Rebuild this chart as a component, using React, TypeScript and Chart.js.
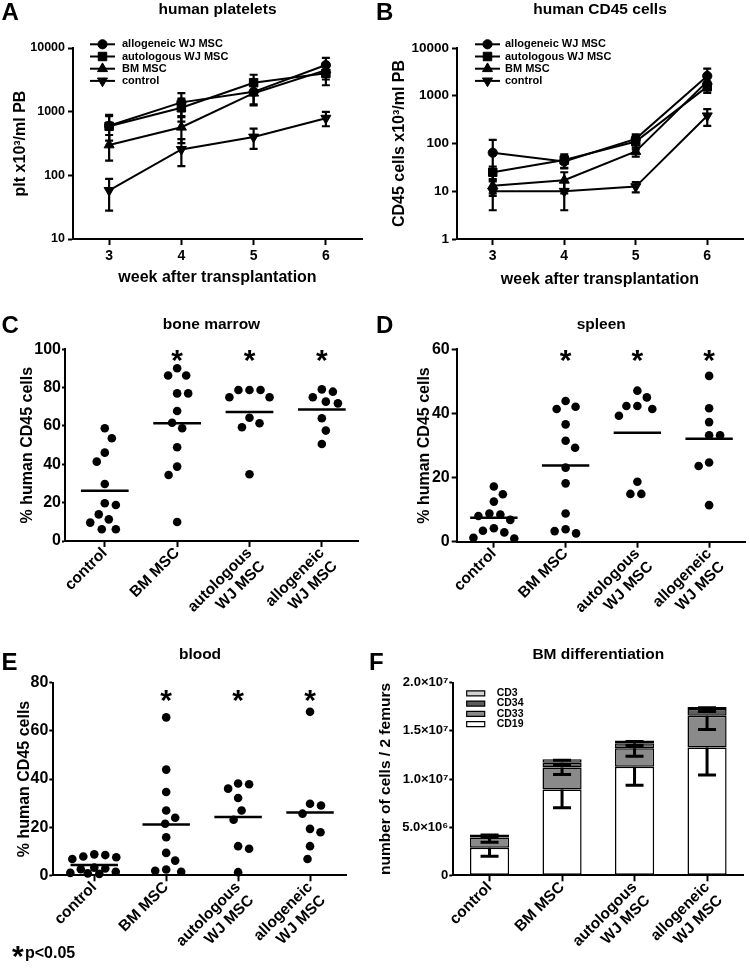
import React, { useEffect, useRef } from "react";
import { Chart, registerables } from "chart.js";
import { drawPoint } from "chart.js/helpers";

Chart.register(...registerables);

const FONT = "'Liberation Sans', Arial, Helvetica, sans-serif";
Chart.defaults.font.family = FONT;
Chart.defaults.color = "#000";
const BLACK = "#000";

// ---------------- Panels A & B: time course ----------------
const weeks = [3, 4, 5, 6];
const seriesNames = ["allogeneic WJ MSC", "autologous WJ MSC", "BM MSC", "control"];
const logTicksA = [10, 100, 1000, 10000];
const logTicksB = [1, 10, 100, 1000, 10000];

const plateletsAllo = [600, 1400, 2050, 5400];
const plateletsAlloErr = [250, 550, 750, 1600];
const plateletsAuto = [590, 1150, 2850, 4000];
const plateletsAutoErr = [300, 450, 950, 1400];
const plateletsBM = [300, 570, 1950, 4500];
const plateletsBMErr = [130, 250, 700, 1300];
const plateletsCtrl = [58, 255, 400, 790];
const plateletsCtrlErr = [30, 115, 140, 200];

const cd45Allo = [64, 42, 125, 2600];
const cd45AlloErr = [55, 12, 30, 1100];
const cd45Auto = [25, 45, 110, 1550];
const cd45AutoErr = [8, 14, 35, 400];
const cd45BM = [13, 17, 68, 2000];
const cd45BMErr = [5, 8, 15, 700];
const cd45Ctrl = [10, 10, 12.5, 380];
const cd45CtrlErr = [6, 6, 3, 145];

// ---------------- Panels C, D, E: dot plots ----------------
const groups = ["control", "BM MSC", "autologous WJ MSC", "allogeneic WJ MSC"];
const groupTickLabels = [["control"], ["BM MSC"], ["autologous", "WJ MSC"], ["allogeneic", "WJ MSC"]];
const significant = [false, true, true, true];

const marrowControl = [58.8, 53.6, 46.1, 41.4, 29.7, 19.7, 18.8, 13.9, 11.3, 9.6, 6.1, 6.1];
const marrowBM = [90.1, 86.3, 86.3, 77.0, 77.0, 67.8, 61.7, 58.8, 48.9, 38.8, 34.4, 9.9];
const marrowAuto = [78.8, 78.8, 78.8, 75.0, 75.0, 64.3, 61.4, 59.3, 34.8];
const marrowAllo = [79.1, 77.9, 75.0, 72.7, 71.8, 64.0, 57.6, 50.6];

const spleenControl = [17.2, 14.8, 12.5, 8.8, 8.5, 8.0, 6.8, 4.2, 3.4, 2.9, 1.2, 1.0];
const spleenBM = [43.9, 42.1, 41.4, 36.6, 31.5, 29.3, 23.1, 18.2, 8.8, 3.9, 3.3, 2.6];
const spleenAuto = [47.1, 45.0, 42.3, 42.3, 41.4, 39.3, 18.7, 14.9, 14.9];
const spleenAllo = [51.7, 41.6, 37.3, 33.2, 33.2, 24.7, 23.6, 11.4];

const bloodControl = [8.7, 8.4, 7.8, 7.5, 6.8, 3.2, 2.8, 2.5, 1.5, 1.0, 0.8, 0.6];
const bloodBM = [65.6, 43.9, 34.6, 26.9, 23.9, 21.4, 15.8, 9.3, 6.1, 2.4, 1.9, 1.5];
const bloodAuto = [38.1, 37.8, 36.0, 32.1, 26.9, 23.1, 12.1, 11.0, 1.3];
const bloodAllo = [67.9, 29.7, 29.0, 25.6, 19.3, 17.9, 12.1, 6.8];

// ---------------- Panel F: stacked bars ----------------
const lineageNames = ["CD19", "CD33", "CD34", "CD3"];
const cd19 = [2.85e6, 8.92e6, 11.28e6, 13.26e6];
const cd19Err = [0.87e6, 1.9e6, 1.94e6, 2.84e6];
const cd33 = [1.07e6, 2.28e6, 1.91e6, 3.3e6];
const cd33Err = [0.5e6, 0.73e6, 0.83e6, 1.42e6];
const cd34 = [0.16e6, 0.5e6, 0.53e6, 0.7e6];
const cd34Err = [0.12e6, 0.3e6, 0.25e6, 0.26e6];
const cd3 = [0.16e6, 0.35e6, 0.27e6, 0.21e6];
const cd3Err = [0.06e6, 0.1e6, 0.1e6, 0.08e6];
const fTickValues = [0, 5e6, 1e7, 1.5e7, 2e7];
const fTickLabels = ["0", "5.0×10⁶", "1.0×10⁷", "1.5×10⁷", "2.0×10⁷"];

// ---------------- styling ----------------
const markers = [
  { style: "circle", r: 4.6, rot: 0 },
  { style: "rect", r: 6, rot: 0 },
  { style: "triangle", r: 5.8, rot: 0 },
  { style: "triangle", r: 5.8, rot: 180 },
];
const barColors = ["#ffffff", "#8a8a8a", "#5c5c5c", "#d2d2d2"];
const PLOT_H = 192;
const CAT_PX = 72;
const SWARM_SX = 10.8;
const SWARM_SY = 13;
const SWARM_MAX = 24;
const MEAN_HALF = 0.33;
const STAR_SIZE = 30;
const TITLE_SIZE = 15.5;
const TITLE_LH = TITLE_SIZE * 1.2;

type Box = { l: number; t: number; r: number; b: number };

function bold(size: number) {
  return { family: FONT, size, weight: "bold" as const };
}

function titleOpts(text: string, center: number, box: Box) {
  const top = center - TITLE_LH / 2;
  return {
    display: true,
    text,
    color: BLACK,
    font: bold(TITLE_SIZE),
    fullSize: false,
    padding: { top, bottom: box.t - top - TITLE_LH },
  };
}

// beeswarm-like horizontal spreading of dots (pixel offsets)
function swarmOffsets(values: number[], pxPerUnit: number): number[] {
  const order = values.map((_, i) => i).sort((a, b) => values[b] - values[a]);
  const placed: { x: number; y: number }[] = [];
  const out = new Array(values.length).fill(0);
  let flip = 1;
  for (const i of order) {
    const y = values[i] * pxPerUnit;
    const viol = (c: number) =>
      placed.reduce((m, p) => Math.max(m, 1 - Math.hypot((p.x - c) / SWARM_SX, (p.y - y) / SWARM_SY)), 0);
    let found: number | null = null;
    let bestV = Infinity;
    let bestC = 0;
    for (let d = 0; d <= SWARM_MAX && found === null; d += 0.5) {
      const cands = d === 0 ? [0] : [d * flip, -d * flip];
      for (const c of cands) {
        const v = viol(c);
        if (v <= 0) {
          found = c;
          break;
        }
        if (v < bestV - 1e-9) {
          bestV = v;
          bestC = c;
        }
      }
    }
    const x = found !== null ? found : bestC;
    if (x !== 0) flip = -flip;
    placed.push({ x, y });
    out[i] = x;
  }
  return out;
}

const tickGrid = (len: number) => ({
  display: true,
  drawOnChartArea: false,
  drawTicks: true,
  tickLength: len,
  tickWidth: 2,
  tickColor: BLACK,
});
const axisBorder = { display: true, width: 2, color: BLACK };

// ---------------- plugins ----------------
const lineErrorBars = {
  id: "lineErrorBars",
  afterDatasetsDraw(chart: any) {
    const { ctx } = chart;
    const y = chart.scales.y;
    ctx.save();
    ctx.strokeStyle = BLACK;
    ctx.lineWidth = 2.2;
    chart.data.datasets.forEach((ds: any, di: number) => {
      const meta = chart.getDatasetMeta(di);
      ds.errors.forEach((e: number, i: number) => {
        const pt = meta.data[i];
        const v = ds.data[i].y;
        const yTop = y.getPixelForValue(v + e);
        const yBot = y.getPixelForValue(Math.max(v - e, y.min));
        ctx.beginPath();
        ctx.moveTo(pt.x, yTop);
        ctx.lineTo(pt.x, yBot);
        ctx.moveTo(pt.x - 4, yTop);
        ctx.lineTo(pt.x + 4, yTop);
        ctx.moveTo(pt.x - 4, yBot);
        ctx.lineTo(pt.x + 4, yBot);
        ctx.stroke();
      });
    });
    ctx.restore();
  },
};

function makeLineLegend(dx: number, dy: number, textDx: number, rowH: number) {
  return {
    id: "lineLegend",
    afterDraw(chart: any) {
      const { ctx, chartArea } = chart;
      ctx.save();
      ctx.font = `bold 11px ${FONT}`;
      ctx.textBaseline = "middle";
      ctx.textAlign = "left";
      chart.data.datasets.forEach((ds: any, i: number) => {
        const y = chartArea.top + dy + i * rowH;
        const x0 = chartArea.left + dx;
        ctx.strokeStyle = BLACK;
        ctx.fillStyle = BLACK;
        ctx.lineWidth = 2;
        ctx.beginPath();
        ctx.moveTo(x0, y);
        ctx.lineTo(x0 + 25, y);
        ctx.stroke();
        ctx.lineWidth = 1;
        drawPoint(ctx, { pointStyle: ds.pointStyle, radius: ds.pointRadius, rotation: ds.pointRotation, borderWidth: 1 } as any, x0 + 12.5, y);
        ctx.fillText(ds.label, chartArea.left + textDx, y);
      });
      ctx.restore();
    },
  };
}

function makeDotMarks(starDy: number) {
  return {
    id: "dotMarks",
    afterDatasetsDraw(chart: any) {
      const { ctx, chartArea } = chart;
      const x = chart.scales.x;
      const y = chart.scales.y;
      ctx.save();
      chart.data.datasets.forEach((ds: any, gi: number) => {
        const vals = ds.data.map((p: any) => p.y);
        const mean = vals.reduce((a: number, b: number) => a + b, 0) / vals.length;
        const yp = y.getPixelForValue(mean);
        ctx.strokeStyle = BLACK;
        ctx.lineWidth = 2.5;
        ctx.beginPath();
        ctx.moveTo(x.getPixelForValue(gi - MEAN_HALF), yp);
        ctx.lineTo(x.getPixelForValue(gi + MEAN_HALF), yp);
        ctx.stroke();
        if (significant[gi]) {
          ctx.font = `bold ${STAR_SIZE}px ${FONT}`;
          ctx.textAlign = "center";
          ctx.textBaseline = "alphabetic";
          ctx.fillStyle = BLACK;
          ctx.fillText("*", x.getPixelForValue(gi), chartArea.top + starDy + 0.57 * STAR_SIZE);
        }
      });
      ctx.restore();
    },
  };
}

const barErrorBars = {
  id: "barErrorBars",
  afterDatasetsDraw(chart: any) {
    const { ctx } = chart;
    const y = chart.scales.y;
    ctx.save();
    ctx.strokeStyle = BLACK;
    ctx.lineWidth = 3;
    const n = chart.data.labels.length;
    for (let i = 0; i < n; i++) {
      let cum = 0;
      chart.data.datasets.forEach((ds: any, di: number) => {
        cum += ds.data[i];
        const x = chart.getDatasetMeta(di).data[i].x;
        const yTop = y.getPixelForValue(cum);
        const yBot = y.getPixelForValue(cum - ds.errors[i]);
        ctx.beginPath();
        ctx.moveTo(x, yTop);
        ctx.lineTo(x, yBot);
        ctx.moveTo(x - 9, yBot);
        ctx.lineTo(x + 9, yBot);
        ctx.stroke();
      });
    }
    ctx.restore();
  },
};

const barLegend = {
  id: "barLegend",
  afterDraw(chart: any) {
    const { ctx, chartArea } = chart;
    ctx.save();
    ctx.font = `bold 10.5px ${FONT}`;
    ctx.textBaseline = "middle";
    ctx.textAlign = "left";
    const list = [...chart.data.datasets].reverse();
    list.forEach((ds: any, i: number) => {
      const y = chartArea.top + 10.6 + i * 10.3;
      const x0 = chartArea.left + 13.4;
      ctx.fillStyle = ds.backgroundColor;
      ctx.strokeStyle = BLACK;
      ctx.lineWidth = 1.2;
      ctx.beginPath();
      ctx.rect(x0, y - 2.5, 18, 5);
      ctx.fill();
      ctx.stroke();
      ctx.fillStyle = BLACK;
      ctx.fillText(ds.label, chartArea.left + 43.4, y);
    });
    ctx.restore();
  },
};

// ---------------- config builders ----------------
function lineConfig(o: {
  W: number; H: number; box: Box; title: string; yTitle: string; yTitlePad: number; xTitlePad: number;
  values: number[][]; errors: number[][]; yTicks: number[]; ySize: number; legend: any;
}) {
  const { W, H, box } = o;
  return {
    type: "line",
    data: {
      datasets: seriesNames.map((name, si) => ({
        label: name,
        data: weeks.map((w, i) => ({ x: w, y: o.values[si][i] })),
        errors: o.errors[si],
        borderColor: BLACK,
        borderWidth: 2,
        pointStyle: markers[si].style,
        pointRadius: markers[si].r,
        pointRotation: markers[si].rot,
        pointBackgroundColor: BLACK,
        pointBorderColor: BLACK,
        pointBorderWidth: 1,
        tension: 0,
        clip: false,
      })),
    },
    options: {
      responsive: false,
      animation: false,
      devicePixelRatio: 1,
      layout: { padding: { left: 0, top: 0, right: W - box.r, bottom: 0 } },
      plugins: { legend: { display: false }, tooltip: { enabled: false }, title: titleOpts(o.title, 9.6, box) },
      scales: {
        x: {
          type: "linear",
          min: 2.5,
          max: 6.5,
          afterBuildTicks: (s: any) => { s.ticks = weeks.map((v) => ({ value: v })); },
          ticks: { font: bold(14), color: BLACK, padding: 3, callback: (v: any) => String(v) },
          grid: tickGrid(6),
          border: axisBorder,
          title: { display: true, text: "week after transplantation", font: bold(16), color: BLACK, padding: { top: 0, bottom: o.xTitlePad } },
          afterFit: (s: any) => { s.height = H - box.b; },
        },
        y: {
          type: "logarithmic",
          min: o.yTicks[0],
          max: o.yTicks[o.yTicks.length - 1],
          afterBuildTicks: (s: any) => { s.ticks = o.yTicks.map((v) => ({ value: v })); },
          ticks: { font: bold(o.ySize), color: BLACK, padding: 3, callback: (v: any) => String(v) },
          grid: tickGrid(5),
          border: axisBorder,
          title: { display: true, text: o.yTitle, font: bold(16), color: BLACK, padding: { top: o.yTitlePad, bottom: 0 } },
          afterFit: (s: any) => { s.width = box.l; },
        },
      },
    },
    plugins: [lineErrorBars, o.legend],
  };
}

function dotConfig(o: {
  W: number; H: number; box: Box; title: string; titleCenter: number; yTitlePad: number;
  values: number[][]; yMax: number; xMin: number; xMax: number; ySize: number; yTickLen: number; yPad: number; starDy: number;
}) {
  const { W, H, box } = o;
  const pxPerUnit = PLOT_H / o.yMax;
  return {
    type: "scatter",
    data: {
      datasets: o.values.map((vals, gi) => {
        const offs = swarmOffsets(vals, pxPerUnit);
        return {
          label: groups[gi],
          data: vals.map((v, j) => ({ x: gi + offs[j] / CAT_PX, y: v })),
          pointRadius: 4.3,
          pointBackgroundColor: BLACK,
          pointBorderColor: BLACK,
          pointBorderWidth: 0,
          clip: false,
        };
      }),
    },
    options: {
      responsive: false,
      animation: false,
      devicePixelRatio: 1,
      layout: { padding: { left: 0, top: 0, right: W - box.r, bottom: 0 } },
      plugins: { legend: { display: false }, tooltip: { enabled: false }, title: titleOpts(o.title, o.titleCenter, box) },
      scales: {
        x: {
          type: "linear",
          min: o.xMin,
          max: o.xMax,
          afterBuildTicks: (s: any) => { s.ticks = groups.map((_, i) => ({ value: i })); },
          ticks: { font: bold(15.5), color: BLACK, padding: -3, minRotation: 45, maxRotation: 45, autoSkip: false, callback: (v: any) => groupTickLabels[v] },
          grid: tickGrid(6),
          border: axisBorder,
          afterFit: (s: any) => { s.height = H - box.b; },
        },
        y: {
          min: 0,
          max: o.yMax,
          ticks: { stepSize: 20, font: bold(o.ySize), color: BLACK, padding: o.yPad },
          grid: tickGrid(o.yTickLen),
          border: axisBorder,
          title: { display: true, text: "% human CD45 cells", font: bold(16), color: BLACK, padding: { top: o.yTitlePad, bottom: 0 } },
          afterFit: (s: any) => { s.width = box.l; },
        },
      },
    },
    plugins: [makeDotMarks(o.starDy)],
  };
}

function barConfig(W: number, H: number, box: Box) {
  const segs = [cd19, cd33, cd34, cd3];
  const errs = [cd19Err, cd33Err, cd34Err, cd3Err];
  return {
    type: "bar",
    data: {
      labels: groupTickLabels,
      datasets: lineageNames.map((name, i) => ({
        label: name,
        data: segs[i],
        errors: errs[i],
        backgroundColor: barColors[i],
        borderColor: BLACK,
        borderWidth: 1.5,
        borderSkipped: false,
        barPercentage: 0.54,
        categoryPercentage: 1,
      })),
    },
    options: {
      responsive: false,
      animation: false,
      devicePixelRatio: 1,
      layout: { padding: { left: 0, top: 0, right: W - box.r, bottom: 0 } },
      plugins: { legend: { display: false }, tooltip: { enabled: false }, title: titleOpts("BM differentiation", 34.6, box) },
      scales: {
        x: {
          type: "category",
          stacked: true,
          offset: true,
          ticks: { font: bold(15.5), color: BLACK, padding: -3, minRotation: 45, maxRotation: 45, autoSkip: false },
          grid: { ...tickGrid(6), offset: false },
          border: axisBorder,
          afterFit: (s: any) => { s.height = H - box.b; },
        },
        y: {
          stacked: true,
          min: 0,
          max: 2e7,
          ticks: { stepSize: 5e6, font: bold(13), color: BLACK, padding: 1, callback: (v: any) => fTickLabels[fTickValues.indexOf(v)] },
          grid: tickGrid(4),
          border: axisBorder,
          title: { display: true, text: "number of cells / 2 femurs", font: bold(15.5), color: BLACK, padding: { top: 1.5, bottom: 0 } },
          afterFit: (s: any) => { s.width = box.l; },
        },
      },
    },
    plugins: [barErrorBars, barLegend],
  };
}

// ---------------- components ----------------
function ChartPanel({ left, top, width, height, build }: { left: number; top: number; width: number; height: number; build: () => any }) {
  const ref = useRef<HTMLCanvasElement>(null);
  useEffect(() => {
    const chart = new Chart(ref.current as HTMLCanvasElement, build());
    return () => chart.destroy();
  }, []);
  return (
    <canvas
      ref={ref}
      width={width}
      height={height}
      style={{ position: "absolute", left, top, width, height }}
    />
  );
}

function Letter({ ch, left, top }: { ch: string; left: number; top: number }) {
  return (
    <div style={{ position: "absolute", left, top, font: `bold 24px ${FONT}`, lineHeight: "24px", color: BLACK, zIndex: 2 }}>
      {ch}
    </div>
  );
}

export default function App() {
  const boxA: Box = { l: 73, t: 48, r: 362, b: 239 };
  const boxB: Box = { l: 82, t: 48, r: 370, b: 239 };
  const boxC: Box = { l: 65, t: 49.3, r: 358, b: 241 };
  const boxD: Box = { l: 81.7, t: 49.3, r: 371.7, b: 241.7 };
  const boxE: Box = { l: 53.3, t: 62.7, r: 346.7, b: 255.3 };
  const boxF: Box = { l: 78.3, t: 62.7, r: 368.3, b: 255.3 };

  return (
    <div style={{ position: "relative", width: 750, height: 970, background: "#fff", overflow: "hidden", fontFamily: FONT }}>
      <style>{"body{margin:0;background:#fff}"}</style>
      <ChartPanel
        left={0} top={0} width={375} height={300}
        build={() => lineConfig({
          W: 375, H: 300, box: boxA, title: "human platelets", yTitle: "plt x10³/ml PB", yTitlePad: 11.4, xTitlePad: 13,
          values: [plateletsAllo, plateletsAuto, plateletsBM, plateletsCtrl],
          errors: [plateletsAlloErr, plateletsAutoErr, plateletsBMErr, plateletsCtrlErr],
          yTicks: logTicksA, ySize: 12.5, legend: makeLineLegend(17, -3.7, 49, 12.2),
        })}
      />
      <ChartPanel
        left={375} top={0} width={375} height={300}
        build={() => lineConfig({
          W: 375, H: 300, box: boxB, title: "human CD45 cells", yTitle: "CD45 cells x10³/ml PB", yTitlePad: 14.8, xTitlePad: 11,
          values: [cd45Allo, cd45Auto, cd45BM, cd45Ctrl],
          errors: [cd45AlloErr, cd45AutoErr, cd45BMErr, cd45CtrlErr],
          yTicks: logTicksB, ySize: 13.5, legend: makeLineLegend(18, -3.7, 48, 12.2),
        })}
      />
      <ChartPanel
        left={0} top={300} width={375} height={320}
        build={() => dotConfig({
          W: 375, H: 320, box: boxC, title: "bone marrow", titleCenter: 24.6, yTitlePad: 17.8,
          values: [marrowControl, marrowBM, marrowAuto, marrowAllo], yMax: 100, xMin: -0.55, xMax: 3.5,
          ySize: 16, yTickLen: 3, yPad: 1, starDy: 3.7,
        })}
      />
      <ChartPanel
        left={375} top={300} width={375} height={320}
        build={() => dotConfig({
          W: 375, H: 320, box: boxD, title: "spleen", titleCenter: 24.6, yTitlePad: 39.8,
          values: [spleenControl, spleenBM, spleenAuto, spleenAllo], yMax: 60, xMin: -0.518, xMax: 3.51,
          ySize: 16, yTickLen: 5, yPad: 2, starDy: 3.2,
        })}
      />
      <ChartPanel
        left={0} top={620} width={375} height={350}
        build={() => dotConfig({
          W: 375, H: 350, box: boxE, title: "blood", titleCenter: 34.6, yTitlePad: 14.8,
          values: [bloodControl, bloodBM, bloodAuto, bloodAllo], yMax: 80, xMin: -0.57, xMax: 3.51,
          ySize: 16, yTickLen: 4, yPad: 1, starDy: 10.6,
        })}
      />
      <ChartPanel left={375} top={620} width={375} height={350} build={() => barConfig(375, 350, boxF)} />

      <Letter ch="A" left={1.5} top={0} />
      <Letter ch="B" left={376} top={0} />
      <Letter ch="C" left={1.5} top={313} />
      <Letter ch="D" left={376} top={313} />
      <Letter ch="E" left={1.5} top={650} />
      <Letter ch="F" left={369} top={650} />

      <div style={{ position: "absolute", left: 12, top: 941, font: `bold 30px ${FONT}`, lineHeight: "30px", color: BLACK, zIndex: 2 }}>*</div>
      <div style={{ position: "absolute", left: 25, top: 944.5, font: `bold 16px ${FONT}`, lineHeight: "16px", color: BLACK, zIndex: 2 }}>p&lt;0.05</div>
    </div>
  );
}
